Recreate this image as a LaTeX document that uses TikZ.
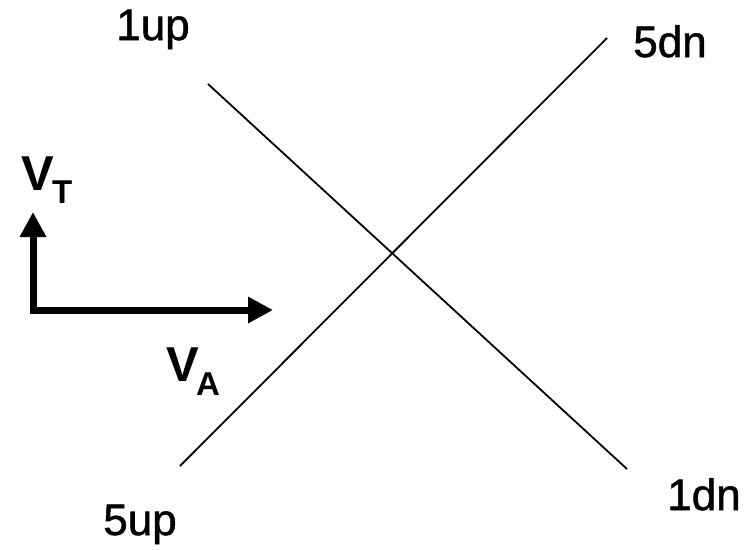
\documentclass[tikz,border=0pt]{standalone}
\usepackage{fontspec}
\setmainfont{Liberation Sans}
\newfontfamily\lblfont[FakeBold=1.2]{Liberation Sans}
\usetikzlibrary{arrows.meta}
\begin{document}
\begin{tikzpicture}[x=1pt,y=-1pt,
  lbl/.style={inner sep=0pt,anchor=base,font=\lblfont\fontsize{44}{44}\selectfont},
  axlbl/.style={inner sep=0pt,anchor=base west,font=\bfseries\fontsize{49}{49}\selectfont},
  sub/.style={inner sep=0pt,anchor=base west,font=\bfseries\fontsize{33}{33}\selectfont},
  curve/.style={line width=1.8pt,black},
  axis/.style={line width=7pt,line join=miter,{Triangle[length=25pt,width=25pt]}-{Triangle[length=25pt,width=25pt]}}]
\useasboundingbox (0,0) rectangle (751,549);
% lines
\coordinate (a1) at (208,84);
\coordinate (a2) at (627,469);
\coordinate (b1) at (180,466);
\coordinate (b2) at (607,38);
\draw[curve] (a1) -- (a2);
\draw[curve] (b1) -- (b2);
% labels
\node[lbl] (up1) at (153,40) {1up};
\node[lbl] (dn5) at (670,57) {5dn};
\node[lbl] (up5) at (140,535) {5up};
\node[lbl] (dn1) at (704,510) {1dn};
% axes
\coordinate (vt) at (33,212);
\coordinate (o) at (33,310);
\coordinate (va) at (273,310);
\draw[axis] (vt) -- (o) -- (va);
\node[axlbl] (VT) at (21,190) {V};
\node[sub] (T) at (52,203) {T};
\node[axlbl] (VA) at (166,381) {V};
\node[sub] (A) at (196,395) {A};
\end{tikzpicture}
\end{document}
